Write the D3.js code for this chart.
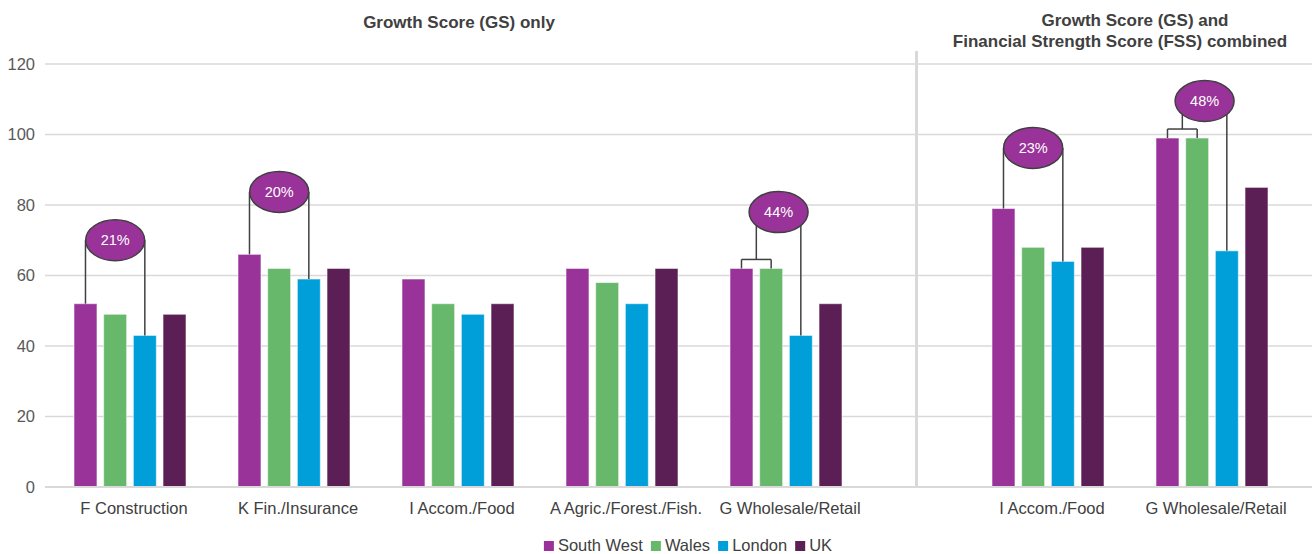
<!DOCTYPE html>
<html>
<head>
<meta charset="utf-8">
<script src="https://cdn.jsdelivr.net/npm/d3@7"></script>
<style>
  html, body { margin: 0; padding: 0; background: #ffffff; }
  svg { display: block; font-family: "Liberation Sans", Arial, sans-serif; }
</style>
</head>
<body>
<svg id="chart" width="1312" height="554"></svg>
<script>
// Series (regions) and their colours
const seriesNames = ["South West", "Wales", "London", "UK"];
const seriesColors = ["#993399", "#68b86c", "#009fda", "#5b1f55"];

// Panel 1: Growth Score only
const gsCategories = ["F Construction", "K Fin./Insurance", "I Accom./Food", "A Agric./Forest./Fish.", "G Wholesale/Retail"];
const gsSouthWest = [52, 66, 59, 62, 62];
const gsWales     = [49, 62, 52, 58, 62];
const gsLondon    = [43, 59, 49, 52, 43];
const gsUK        = [49, 62, 52, 62, 52];

// Panel 2: Growth Score and Financial Strength Score combined
const comboCategories = ["I Accom./Food", "G Wholesale/Retail"];
const comboSouthWest = [79, 99];
const comboWales     = [68, 99];
const comboLondon    = [64, 67];
const comboUK        = [68, 85];

// Y axis ticks
const yTicks = [0, 20, 40, 60, 80, 100, 120];

// Gap callouts: which bars are compared, and the label shown in the bubble
const calloutPanels     = ["gs", "gs", "gs", "combo", "combo"];
const calloutCategories = ["F Construction", "K Fin./Insurance", "G Wholesale/Retail", "I Accom./Food", "G Wholesale/Retail"];
const calloutFrom       = [["South West"], ["South West"], ["South West", "Wales"], ["South West"], ["South West", "Wales"]];
const calloutTo         = ["London", "London", "London", "London", "London"];
const calloutLabels     = ["21%", "20%", "44%", "23%", "48%"];
const calloutLevels     = [70, 83.7, 78, 96.2, 109.5];

const svg = d3.select("#chart");
const textColor = "#404040";
const gridColor = "#d9d9d9";
const labelSize = 16.5;
const titleSize = 17;

const y = d3.scaleLinear().domain([0, 120]).range([487, 64]);

const xGS = d3.scaleBand().domain(gsCategories).range([48, 868]).padding(0);
const xCombo = d3.scaleBand().domain(comboCategories).range([966, 1294]).padding(0);
const xSeries = d3.scaleBand().domain(seriesNames).range([-56, 56]).paddingInner(0.226).paddingOuter(0);
const color = d3.scaleOrdinal().domain(seriesNames).range(seriesColors);

// Gridlines and value labels
const grid = svg.append("g");
grid.selectAll("line").data(yTicks).join("line")
  .attr("x1", 45).attr("x2", 1312)
  .attr("y1", d => y(d)).attr("y2", d => y(d))
  .attr("stroke", gridColor).attr("stroke-width", 1.5);

const yAxis = d3.axisLeft(y).tickValues(yTicks).tickSize(0).tickPadding(0);
svg.append("g").attr("transform", "translate(35,0)").call(yAxis)
  .call(g => g.select(".domain").remove())
  .call(g => g.selectAll("text")
    .attr("fill", "#595959").attr("font-size", labelSize)
    .attr("font-family", "'Liberation Sans', Arial, sans-serif"));

// Divider between panels
svg.append("line")
  .attr("x1", 916.5).attr("x2", 916.5).attr("y1", 51).attr("y2", y(0))
  .attr("stroke", gridColor).attr("stroke-width", 3);

// Panel titles
svg.append("text").attr("x", 459).attr("y", 28).attr("text-anchor", "middle")
  .attr("font-weight", "bold").attr("font-size", titleSize).attr("fill", textColor)
  .text("Growth Score (GS) only");
svg.append("text").attr("x", 1135).attr("y", 26).attr("text-anchor", "middle")
  .attr("font-weight", "bold").attr("font-size", titleSize).attr("fill", textColor)
  .text("Growth Score (GS) and");
svg.append("text").attr("x", 1120).attr("y", 47).attr("text-anchor", "middle")
  .attr("font-weight", "bold").attr("font-size", titleSize).attr("fill", textColor)
  .text("Financial Strength Score (FSS) combined");

// Build row data for each panel
function rows(categories, columns) {
  return categories.map((c, i) => ({
    category: c,
    values: seriesNames.map((s, j) => ({ series: s, value: columns[j][i] }))
  }));
}
const panels = {
  gs: { x: xGS, data: rows(gsCategories, [gsSouthWest, gsWales, gsLondon, gsUK]) },
  combo: { x: xCombo, data: rows(comboCategories, [comboSouthWest, comboWales, comboLondon, comboUK]) }
};

function barCenter(panel, category, series) {
  const p = panels[panel];
  return p.x(category) + p.x.bandwidth() / 2 + xSeries(series) + xSeries.bandwidth() / 2;
}
function barValue(panel, category, series) {
  const row = panels[panel].data.find(r => r.category === category);
  return row.values.find(v => v.series === series).value;
}

Object.values(panels).forEach(p => {
  const groups = svg.append("g").selectAll("g").data(p.data).join("g")
    .attr("transform", d => `translate(${p.x(d.category) + p.x.bandwidth() / 2},0)`);
  groups.selectAll("rect").data(d => d.values).join("rect")
    .attr("x", d => xSeries(d.series))
    .attr("width", xSeries.bandwidth())
    .attr("y", d => y(d.value))
    .attr("height", d => y(0) - y(d.value))
    .attr("fill", d => color(d.series))
    .attr("stroke", "rgba(255,255,255,0.55)")
    .attr("stroke-width", 1);
  // Category labels
  groups.append("text")
    .attr("x", 4).attr("y", 514)
    .attr("text-anchor", "middle").attr("font-size", labelSize).attr("fill", textColor)
    .text(d => d.category);
});

// Baseline
svg.append("line").attr("x1", 45).attr("x2", 1312).attr("y1", y(0)).attr("y2", y(0))
  .attr("stroke", gridColor).attr("stroke-width", 2);

// Gap callouts
const lineColor = "#404040";
const callLayer = svg.append("g");
calloutLabels.forEach((label, i) => {
  const panel = calloutPanels[i];
  const cat = calloutCategories[i];
  const from = calloutFrom[i];
  const to = calloutTo[i];
  const cy = y(calloutLevels[i]);
  const g = callLayer.append("g");
  const line = (x1, y1, x2, y2) => g.append("line")
    .attr("x1", x1).attr("y1", y1).attr("x2", x2).attr("y2", y2)
    .attr("stroke", lineColor).attr("stroke-width", 1.5);

  let leftX;
  if (from.length === 1) {
    leftX = barCenter(panel, cat, from[0]);
    line(leftX, y(barValue(panel, cat, from[0])), leftX, cy);
  } else {
    const xs = from.map(s => barCenter(panel, cat, s));
    const tops = from.map(s => y(barValue(panel, cat, s)));
    const by = Math.min(...tops) - 9;
    from.forEach((s, k) => line(xs[k], tops[k], xs[k], by));
    line(xs[0], by, xs[xs.length - 1], by);
    leftX = (xs[0] + xs[xs.length - 1]) / 2;
    line(leftX, by, leftX, cy);
  }
  const rightX = barCenter(panel, cat, to);
  line(rightX, y(barValue(panel, cat, to)), rightX, cy);

  const cx = (leftX + rightX) / 2;
  g.append("ellipse").attr("cx", cx).attr("cy", cy).attr("rx", 29.5).attr("ry", 20.5)
    .attr("fill", "#993399").attr("stroke", lineColor).attr("stroke-width", 1.5);
  g.append("text").attr("x", cx).attr("y", cy + 5).attr("text-anchor", "middle")
    .attr("font-size", 14.5).attr("fill", "#ffffff").text(label);
});

// Legend
const legend = svg.append("g");
let lx = 0;
seriesNames.forEach(name => {
  const it = legend.append("g");
  it.append("rect").attr("width", 10).attr("height", 10).attr("y", -10).attr("fill", color(name));
  const t = it.append("text").attr("x", 14).attr("y", 0).attr("font-size", labelSize).attr("fill", textColor).text(name);
  const w = 14 + t.node().getComputedTextLength();
  it.attr("transform", `translate(${lx},0)`);
  lx += w + 8;
});
const legendWidth = lx - 8;
legend.attr("transform", `translate(${688 - legendWidth / 2},551)`);
</script>
</body>
</html>
